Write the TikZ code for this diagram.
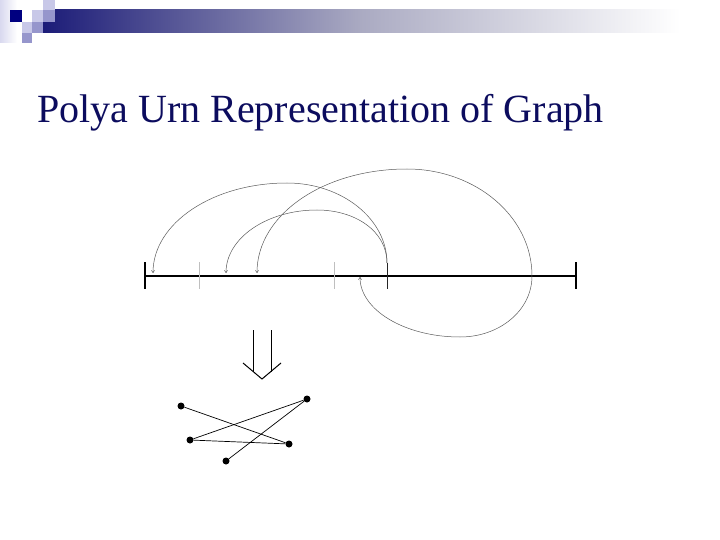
\documentclass[tikz,border=0pt]{standalone}
\usepackage{fontspec}
\setmainfont{Liberation Serif}
\usetikzlibrary{arrows.meta}
\definecolor{navy}{RGB}{12,12,94}
\definecolor{barnavy}{RGB}{28,28,120}
\definecolor{barmid}{RGB}{170,170,194}
\definecolor{sqnavy}{RGB}{0,0,128}
\definecolor{sqlight}{RGB}{200,200,232}
\definecolor{sqmed}{RGB}{150,150,204}
\definecolor{arcgray}{RGB}{90,90,90}
\tikzset{
  urnarc/.style={draw=arcgray, line width=0.5pt, -{To[length=3pt,width=3.5pt]}},
  endtick/.style={draw=black, line width=1.4pt},
  graytick/.style={draw=gray!50, line width=0.6pt},
  darktick/.style={draw=black!85, line width=0.7pt},
  vert/.style={circle, fill=black, inner sep=0pt, minimum width=7pt, minimum height=6pt},
  gedge/.style={draw=black, line width=0.7pt},
  bigarrow/.style={draw=black, line width=1pt},
}
\begin{document}
\begin{tikzpicture}[x=1pt,y=-1pt]
\useasboundingbox (0,0) rectangle (720,540);
% header decoration
\shade[left color=sqlight!70, right color=white] (0,0) rectangle (17,43);
\shade[left color=barnavy, right color=barmid] (43,10) rectangle (360.5,33);
\shade[left color=barmid, right color=white] (360,10) rectangle (680,33);
\fill[sqnavy] (10,10) rectangle (22,22);
\fill[sqlight] (32,10) rectangle (43,22);
\fill[sqlight] (43,0) rectangle (55,10);
\fill[sqmed] (43,10) rectangle (55,22);
\fill[sqlight] (22,22) rectangle (32,33);
\fill[sqmed] (32,22) rectangle (43,33);
\fill[sqmed] (22,33) rectangle (32,43);
% title
\node[anchor=base west, inner sep=0pt, text=navy, font=\fontsize{40}{48}\selectfont] (title) at (37,123) {Polya Urn Representation of Graph};
% urn line
\coordinate (L) at (145,276);
\coordinate (R) at (576,276);
\draw[line width=1.4pt] (L) -- (R);
\draw[endtick] (145,262) -- (145,289);
\draw[endtick] (576,262) -- (576,289);
\draw[graytick] (199,262) -- (199,289);
\draw[graytick] (334,262) -- (334,289);
\draw[darktick] (387,263) -- (387,289);
\coordinate (s1) at (387,263);
\coordinate (s2) at (532,276);
\coordinate (e1) at (153,273);
\coordinate (e2) at (226,273);
\coordinate (e3) at (257,273);
\coordinate (e4) at (360,277);
\path[urnarc] (s1) .. controls (387,219) and (342,183) .. (287,183) .. controls (213,183) and (153,223) .. (e1);
\path[urnarc] (s1) .. controls (387,231) and (355,210) .. (317,210) .. controls (267,210) and (226,238) .. (e2);
\path[urnarc] (s2) .. controls (532,216) and (475,169) .. (407,169) .. controls (323,169) and (257,215) .. (e3);
\path[urnarc] (s2) .. controls (532,310) and (500,337) .. (460,337) .. controls (405,337) and (360,310) .. (e4);
% double down arrow
\coordinate (a1) at (253,330);
\coordinate (a2) at (271,330);
\coordinate (h1) at (243,363);
\coordinate (tip) at (262,379);
\coordinate (h2) at (281,363);
\draw[bigarrow] (a1) -- (253,372);
\draw[bigarrow] (a2) -- (271,372);
\draw[bigarrow] (h1) -- (tip) -- (h2);
% graph
\node[vert] (A) at (181,406) {};
\node[vert] (B) at (307,399) {};
\node[vert] (C) at (190,440) {};
\node[vert] (D) at (289,444) {};
\node[vert] (E) at (226,461) {};
\draw[gedge] (A) -- (D);
\draw[gedge] (C) -- (B);
\draw[gedge] (C) -- (D);
\draw[gedge] (E) -- (B);
\end{tikzpicture}
\end{document}
